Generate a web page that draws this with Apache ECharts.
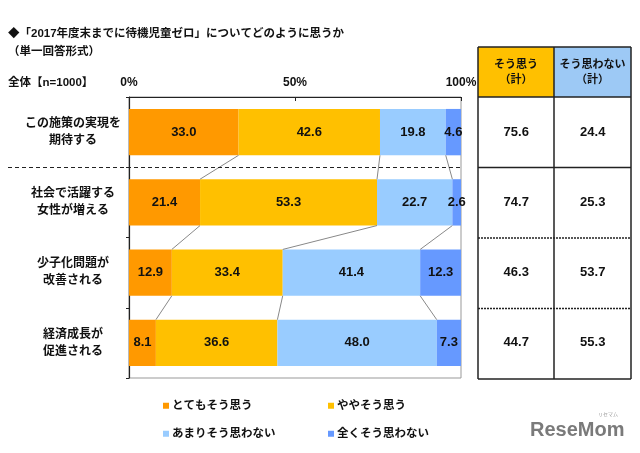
<!DOCTYPE html>
<html><head><meta charset="utf-8">
<script src="https://cdn.jsdelivr.net/npm/echarts@6/dist/echarts.min.js"></script>
<style>html,body{margin:0;padding:0;background:#fff}#c{width:640px;height:453px}</style>
</head><body><div id="c"></div>
<script>
const categories = ['この施策の実現を\n期待する', '社会で活躍する\n女性が増える', '少子化問題が\n改善される', '経済成長が\n促進される'];
const seriesNames = ['とてもそう思う', 'ややそう思う', 'あまりそう思わない', '全くそう思わない'];
const veryAgree = [33.0, 21.4, 12.9, 8.1];
const someAgree = [42.6, 53.3, 33.4, 36.6];
const notMuch = [19.8, 22.7, 41.4, 48.0];
const notAtAll = [4.6, 2.6, 12.3, 7.3];
const xTicks = [0, 50, 100];
const tableHeaders = ['そう思う\n（計）', 'そう思わない\n（計）'];
const agreeTotal = [75.6, 74.7, 46.3, 44.7];
const disagreeTotal = [24.4, 25.3, 53.7, 55.3];

const colors = ['#FF9900', '#FFC000', '#99CCFF', '#6699FF'];
const F = "'Liberation Sans','Noto Sans CJK JP',sans-serif";
const values = [veryAgree, someAgree, notMuch, notAtAll];
const BAR_RATIO = 0.66;

const connData = [];
for (let r = 0; r < categories.length - 1; r++) {
  let a = 0, b = 0;
  for (let k = 0; k < 3; k++) {
    a += values[k][r]; b += values[k][r + 1];
    connData.push([a, b, r]);
  }
}

const tableData = [];
agreeTotal.forEach((v, i) => tableData.push([0, i, v]));
disagreeTotal.forEach((v, i) => tableData.push([1, i, v]));

const chart = echarts.init(document.getElementById('c'));
const barSeries = seriesNames.map((n, k) => ({
  name: n, type: 'bar', stack: 's', xAxisIndex: 0, yAxisIndex: 0,
  barWidth: (BAR_RATIO * 100) + '%',
  data: values[k],
  itemStyle: { color: colors[k] },
  label: { show: true, position: 'inside', color: '#111', fontFamily: F, fontWeight: 'bold', fontSize: 13,
    formatter: p => p.value.toFixed(1) },
  z: 2
}));

const legendPos = [[158, 395], [323, 395], [158, 423], [323, 423]];
const legends = seriesNames.map((n, k) => ({
  data: [n], left: legendPos[k][0], top: legendPos[k][1], icon: 'rect', itemWidth: 6, itemHeight: 6, itemGap: 5,
  textStyle: { fontSize: 11.5, fontWeight: 'bold', color: '#111', fontFamily: F, padding: [0, 0, 0, -2] }
}));

chart.setOption({
  animation: false,
  textStyle: { fontFamily: F },
  grid: [
    { left: 129, right: 179, top: 97, bottom: 75, show: true, borderColor: '#999', borderWidth: 1 },
    { left: 478, right: 9, top: 97, bottom: 75 }
  ],
  xAxis: [
    { type: 'value', gridIndex: 0, min: 0, max: 100, interval: 50, position: 'top',
      axisLine: { show: true, lineStyle: { color: '#222', width: 1 } },
      axisTick: { show: true, inside: true, length: 4, lineStyle: { color: '#222' } },
      splitLine: { show: false },
      axisLabel: { formatter: '{value}%', color: '#111', fontWeight: 'bold', fontSize: 12, fontFamily: F, margin: 8 } },
    { type: 'category', gridIndex: 1, data: tableHeaders, show: false }
  ],
  yAxis: [
    { type: 'category', gridIndex: 0, data: categories, inverse: true,
      axisLine: { show: true, lineStyle: { color: '#222', width: 1.2 } },
      axisTick: { show: true, length: 3, lineStyle: { color: '#222' } },
      axisLabel: { color: '#111', fontWeight: 'bold', fontSize: 12, fontFamily: F, lineHeight: 17, align: 'center', margin: 56 } },
    { type: 'category', gridIndex: 1, data: categories, inverse: true, show: false }
  ],
  legend: legends,
  series: barSeries.concat([
    { type: 'custom', xAxisIndex: 0, yAxisIndex: 0, data: connData, encode: { x: [0, 1], y: 2 }, z: 3, silent: true,
      renderItem: (params, api) => {
        const r = api.value(2);
        const p1 = api.coord([api.value(0), r]);
        const p2 = api.coord([api.value(1), r + 1]);
        const half = api.size([0, 1])[1] * BAR_RATIO / 2;
        return { type: 'line', shape: { x1: p1[0], y1: p1[1] + half, x2: p2[0], y2: p2[1] - half },
          style: { stroke: '#888', lineWidth: 1 } };
      } },
    { type: 'scatter', xAxisIndex: 1, yAxisIndex: 1, data: tableData, symbolSize: 0, silent: true,
      itemStyle: { opacity: 1 },
      label: { show: true, position: 'inside', color: '#111', fontWeight: 'bold', fontSize: 13, fontFamily: F,
        formatter: p => p.value[2].toFixed(1) } }
  ]),
  graphic: [
    { type: 'text', left: 8, top: 28, style: { text: '◆「2017年度末までに待機児童ゼロ」についてどのように思うか', font: 'bold 11.5px ' + F, fill: '#111' } },
    { type: 'text', left: 8, top: 46, style: { text: '（単一回答形式）', font: 'bold 11.5px ' + F, fill: '#111' } },
    { type: 'text', left: 8, top: 77, style: { text: '全体【n=1000】', font: 'bold 11.5px ' + F, fill: '#111' } },
    { type: 'line', shape: { x1: 8, y1: 167.5, x2: 461, y2: 167.5 }, style: { stroke: '#222', lineWidth: 1, lineDash: [4, 3] }, z: 5 },
    { type: 'rect', shape: { x: 478, y: 47, width: 76, height: 50 }, style: { fill: '#FFC000' },
      textContent: { style: { text: tableHeaders[0], font: 'bold 11px ' + F, fill: '#111', align: 'center', lineHeight: 15 } },
      textConfig: { position: 'inside' } },
    { type: 'rect', shape: { x: 554, y: 47, width: 77, height: 50 }, style: { fill: '#9DC9F5' },
      textContent: { style: { text: tableHeaders[1], font: 'bold 11px ' + F, fill: '#111', align: 'center', lineHeight: 15 } },
      textConfig: { position: 'inside' } },
    { type: 'line', shape: { x1: 478, y1: 47, x2: 631, y2: 47 }, style: { stroke: '#222', lineWidth: 1.5 }, z: 5 },
    { type: 'line', shape: { x1: 478, y1: 97, x2: 631, y2: 97 }, style: { stroke: '#222', lineWidth: 1.5 }, z: 5 },
    { type: 'line', shape: { x1: 478, y1: 167.5, x2: 631, y2: 167.5 }, style: { stroke: '#222', lineWidth: 1.5 }, z: 5 },
    { type: 'line', shape: { x1: 478, y1: 238, x2: 631, y2: 238 }, style: { stroke: '#222', lineWidth: 1.5, lineDash: [2, 1] }, z: 5 },
    { type: 'line', shape: { x1: 478, y1: 308.5, x2: 631, y2: 308.5 }, style: { stroke: '#222', lineWidth: 1.5, lineDash: [2, 1] }, z: 5 },
    { type: 'line', shape: { x1: 478, y1: 379, x2: 631, y2: 379 }, style: { stroke: '#222', lineWidth: 1.5 }, z: 5 },
    { type: 'line', shape: { x1: 478, y1: 47, x2: 478, y2: 379 }, style: { stroke: '#222', lineWidth: 1.5 }, z: 5 },
    { type: 'line', shape: { x1: 554, y1: 47, x2: 554, y2: 379 }, style: { stroke: '#222', lineWidth: 1.5 }, z: 5 },
    { type: 'line', shape: { x1: 631, y1: 47, x2: 631, y2: 379 }, style: { stroke: '#222', lineWidth: 1.5 }, z: 5 },
    { type: 'text', left: 530, top: 420, style: { text: 'ReseMom', font: 'bold 20px ' + F, fill: '#7a7a7a' } },
    { type: 'text', left: 598, top: 412, style: { text: 'リセマム', font: '5px ' + F, fill: '#999' } }
  ]
});
</script></body></html>
